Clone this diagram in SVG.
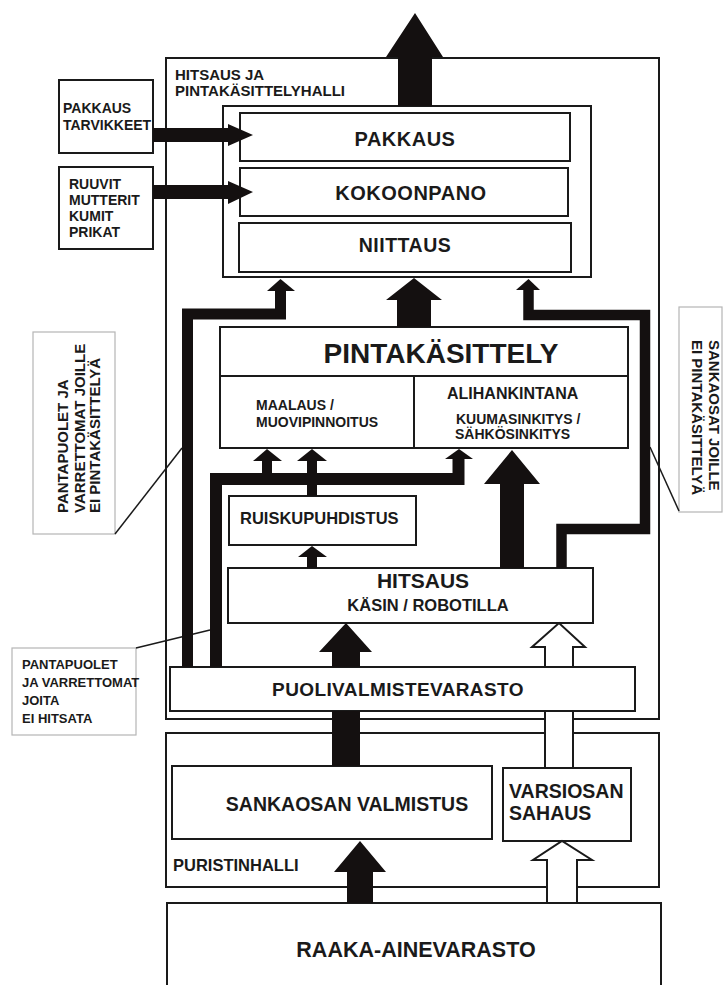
<svg xmlns="http://www.w3.org/2000/svg" width="724" height="985" viewBox="0 0 724 985">
<style>
.box{fill:#fff;stroke:#1a1a1a;stroke-width:2}
.hall{fill:none;stroke:#1a1a1a;stroke-width:2}
.note{fill:#fff;stroke:#b5b5b5;stroke-width:1.2}
.lead{fill:none;stroke:#1a1a1a;stroke-width:1.5}
.thick{fill:none;stroke:#141010;stroke-width:11;stroke-linejoin:miter}
.blk{fill:#141010}
.wht{fill:#fff;stroke:#1a1a1a;stroke-width:2;stroke-linejoin:miter}
.wfill{fill:#fff}
.wline{stroke:#1a1a1a;stroke-width:2}
text{font-family:"Liberation Sans",Arial,sans-serif;font-weight:bold;fill:#1a1a1a}
</style>
<rect width="724" height="985" fill="#fff"/>

<g id="hall-hitsaus">
<rect class="hall" x="166" y="58" width="493" height="661"/>
<text x="175" y="80" font-size="15">HITSAUS JA</text>
<text x="175" y="96" font-size="15">PINTAKÄSITTELYHALLI</text>
</g>
<g id="hall-puristin">
<rect class="hall" x="166" y="733" width="493" height="154"/>
<text x="173" y="871" font-size="16.5">PURISTINHALLI</text>
</g>

<g id="pakkaustarvikkeet">
<rect class="box" x="59" y="80" width="94" height="73"/>
<text x="63" y="113" font-size="14">PAKKAUS</text>
<text x="63" y="130" font-size="14">TARVIKKEET</text>
</g>
<g id="ruuvit">
<rect class="box" x="59" y="167" width="94" height="82"/>
<text x="69" y="189" font-size="14">RUUVIT</text>
<text x="69" y="205" font-size="14">MUTTERIT</text>
<text x="69" y="221" font-size="14">KUMIT</text>
<text x="69" y="237" font-size="14">PRIKAT</text>
</g>

<g id="kokoonpanoalue">
<rect class="box" x="223" y="106" width="368" height="171"/>
</g>
<g id="pakkaus">
<rect class="box" x="240" y="113" width="330" height="48"/>
<text x="405" y="146" font-size="20" text-anchor="middle" letter-spacing="0.5">PAKKAUS</text>
</g>
<g id="kokoonpano">
<rect class="box" x="240" y="168" width="328" height="48"/>
<text x="411" y="200" font-size="20" text-anchor="middle" letter-spacing="0.5">KOKOONPANO</text>
</g>
<g id="niittaus">
<rect class="box" x="239" y="223" width="332" height="49"/>
<text x="405" y="252" font-size="19.5" text-anchor="middle" letter-spacing="0.5">NIITTAUS</text>
</g>

<g id="pintakasittely">
<rect class="box" x="220" y="327" width="408" height="121"/>
<line class="wline" x1="220" y1="376" x2="628" y2="376"/>
<line class="wline" x1="414" y1="376" x2="414" y2="448"/>
<text x="441" y="363" font-size="28" text-anchor="middle">PINTAKÄSITTELY</text>
<text x="256" y="410" font-size="14">MAALAUS /</text>
<text x="256" y="427" font-size="14">MUOVIPINNOITUS</text>
<text x="447" y="399" font-size="16">ALIHANKINTANA</text>
<text x="456" y="424" font-size="14">KUUMASINKITYS /</text>
<text x="455" y="439" font-size="14">SÄHKÖSINKITYS</text>
</g>

<g id="ruiskupuhdistus">
<rect class="box" x="229" y="496" width="187" height="49"/>
<text x="240" y="524" font-size="16.5">RUISKUPUHDISTUS</text>
</g>
<g id="hitsaus">
<rect class="box" x="228" y="568" width="365" height="55"/>
<text x="423" y="588" font-size="21" text-anchor="middle">HITSAUS</text>
<text x="428" y="611" font-size="16.5" text-anchor="middle">KÄSIN / ROBOTILLA</text>
</g>
<g id="puolivalmistevarasto">
<rect class="box" x="170" y="667" width="465" height="44"/>
<text x="398" y="696" font-size="19" text-anchor="middle" letter-spacing="0.4">PUOLIVALMISTEVARASTO</text>
</g>
<g id="sankaosan-valmistus">
<rect class="box" x="172" y="766" width="320" height="73"/>
<text x="347" y="811" font-size="19.5" text-anchor="middle">SANKAOSAN VALMISTUS</text>
</g>
<g id="varsiosan-sahaus">
<rect class="box" x="503" y="768" width="128" height="73"/>
<text x="509" y="798" font-size="19.5">VARSIOSAN</text>
<text x="509" y="820" font-size="19.5">SAHAUS</text>
</g>
<g id="raaka-ainevarasto">
<rect class="box" x="167" y="903" width="494" height="100"/>
<text x="416" y="957" font-size="21.5" text-anchor="middle">RAAKA-AINEVARASTO</text>
</g>

<g id="note-left">
<rect class="note" x="33" y="332" width="82" height="202"/>
<text transform="translate(68,513) rotate(-90)" font-size="15">PANTAPUOLET JA</text>
<text transform="translate(85,513) rotate(-90)" font-size="15">VARRETTOMAT  JOILLE</text>
<text transform="translate(100,513) rotate(-90)" font-size="15">EI PINTAKÄSITTELYÄ</text>
<line class="lead" x1="115" y1="534" x2="182" y2="448"/>
</g>
<g id="note-right">
<rect class="note" x="679" y="307" width="43" height="205"/>
<text transform="translate(709,340) rotate(90)" font-size="15">SANKAOSAT JOILLE</text>
<text transform="translate(692,340) rotate(90)" font-size="15">EI PINTAKÄSITTELYÄ</text>
<line class="lead" x1="679" y1="511" x2="650" y2="447"/>
</g>
<g id="note-bottom">
<rect class="note" x="12" y="648" width="124" height="87"/>
<text x="22" y="669" font-size="13">PANTAPUOLET</text>
<text x="22" y="687" font-size="13">JA VARRETTOMAT</text>
<text x="22" y="705" font-size="13">JOITA</text>
<text x="22" y="723" font-size="13">EI HITSATA</text>
<line class="lead" x1="136" y1="648" x2="210" y2="630"/>
</g>

<g id="connectors">
<!-- output from packing -->
<polygon class="blk" points="398,106 398,57 386,57 415,13 443,57 432,57 432,106"/>
<!-- supplies -->
<polygon class="blk" points="153,128 228,128 228,124 253,135 228,146 228,142 153,142"/>
<polygon class="blk" points="153,185 228,185 228,181 253,192 228,204 228,199 153,199"/>
<!-- pintakasittely to niittaus -->
<polygon class="blk" points="397,327 397,300 386,300 414,278 442,300 431,300 431,327"/>
<!-- left path: puolivalmiste to niittaus -->
<path class="thick" d="M187.5,667 V314 H280.5 V290"/>
<polygon class="blk" points="267,291 280.5,279 295,291"/>
<!-- right path: hitsaus to niittaus -->
<path class="thick" d="M561.5,568 V529 H645 V315 H528.5 V289" style="stroke-width:10.5"/>
<polygon class="blk" points="516,290 528.5,279 540,290"/>
<!-- second left path: puolivalmiste to alihankinta / maalaus -->
<path class="thick" d="M216,667 V479 H458.5 V458" style="stroke-width:12"/>
<polygon class="blk" points="445,459 459,449 473,459"/>
<rect class="blk" x="262" y="460" width="10" height="15"/>
<polygon class="blk" points="253,461 267,449 282,461"/>
<!-- ruiskupuhdistus to maalaus -->
<rect class="blk" x="307" y="460" width="10" height="36"/>
<polygon class="blk" points="297,461 312,449 327,461"/>
<!-- hitsaus to ruiskupuhdistus -->
<polygon class="blk" points="307,568 307,557 298,557 312,546 327,557 317,557 317,568"/>
<!-- hitsaus to alihankinta -->
<polygon class="blk" points="500,568 500,484 484,484 512,450 540,484 524,484 524,568"/>
<!-- puolivalmiste to hitsaus -->
<polygon class="blk" points="332,667 332,652 319,652 346,623 372,652 360,652 360,667"/>
<!-- sankaosa to puolivalmiste -->
<rect class="blk" x="332" y="711" width="28" height="55"/>
<!-- raaka-aine to sankaosa -->
<polygon class="blk" points="347,903 347,872 334,872 360,841 386,872 373,872 373,903"/>
<!-- varsiosa to hitsaus (white) -->
<rect class="wfill" x="546" y="712" width="26" height="55"/>
<line class="wline" x1="545" y1="711" x2="545" y2="768"/>
<line class="wline" x1="573" y1="711" x2="573" y2="768"/>
<polygon class="wht" points="545,667 545,647 532,647 559,623 585,647 573,647 573,667"/>
<!-- raaka-aine to varsiosa (white) -->
<polygon class="wht" points="547,903 547,860 533,860 562,841 592,860 577,860 577,903"/>
</g>
</svg>
